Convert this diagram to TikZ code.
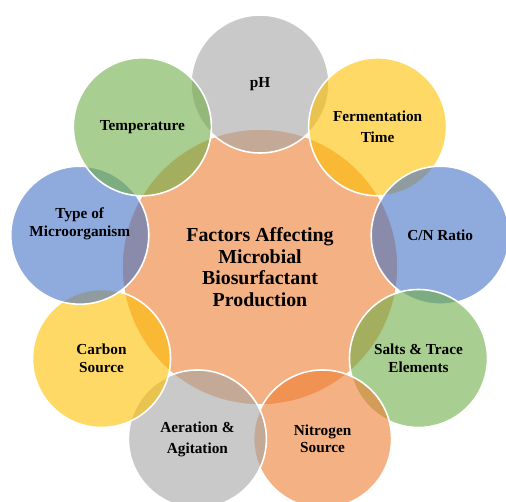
\documentclass[tikz,border=0pt]{standalone}
\usepackage{fontspec}
\setmainfont{Liberation Serif}
\usepackage{tikz}
\definecolor{accblue}{HTML}{4472C4}
\definecolor{accorange}{HTML}{ED7D31}
\definecolor{accgray}{HTML}{A5A5A5}
\definecolor{accgold}{HTML}{FFC000}
\definecolor{accgreen}{HTML}{70AD47}
\tikzstyle{disc} = [circle, draw=white, line width=0.9pt, fill opacity=0.6, text opacity=1, inner sep=0pt, align=center, font={\bfseries}]
\tikzstyle{hub} = [disc, fill=accorange, minimum size=5.52cm, font={\fontsize{11.3}{12.3}\bfseries\selectfont}]
\tikzstyle{factor} = [disc, minimum size=2.76cm, font={\fontsize{8.7}{10}\bfseries\selectfont}]

\begin{document}
\begin{tikzpicture}
  \clip (-5.2,-4.7) rectangle (4.92,5.34);
  \node[hub](hub) at (0,0){Factors Affecting\\Microbial\\Biosurfactant\\Production};
  \node[factor,fill=accgray](ph) at (90:3.66){pH};
  \node[factor,fill=accgold](time) at (50:3.66){Fermentation\\[2pt]Time};
  \node[factor,fill=accblue](cn) at (10:3.66){C/N Ratio};
  \node[factor,fill=accgreen](salts) at (-30:3.66){Salts \& Trace\\Elements};
  \node[factor,fill=accorange](nitro) at (-70:3.66){Nitrogen\\Source};
  \node[factor,fill=accgray](air) at (-110:3.66){Aeration \&\\[2pt]Agitation};
  \node[factor,fill=accgold](carbon) at (-150:3.66){Carbon\\Source};
  \node[factor,fill=accblue](micro) at (170:3.66){Type of\\Microorganism\\[5pt]};
  \node[factor,fill=accgreen](temp) at (130:3.66){Temperature};
\end{tikzpicture}
\end{document}
